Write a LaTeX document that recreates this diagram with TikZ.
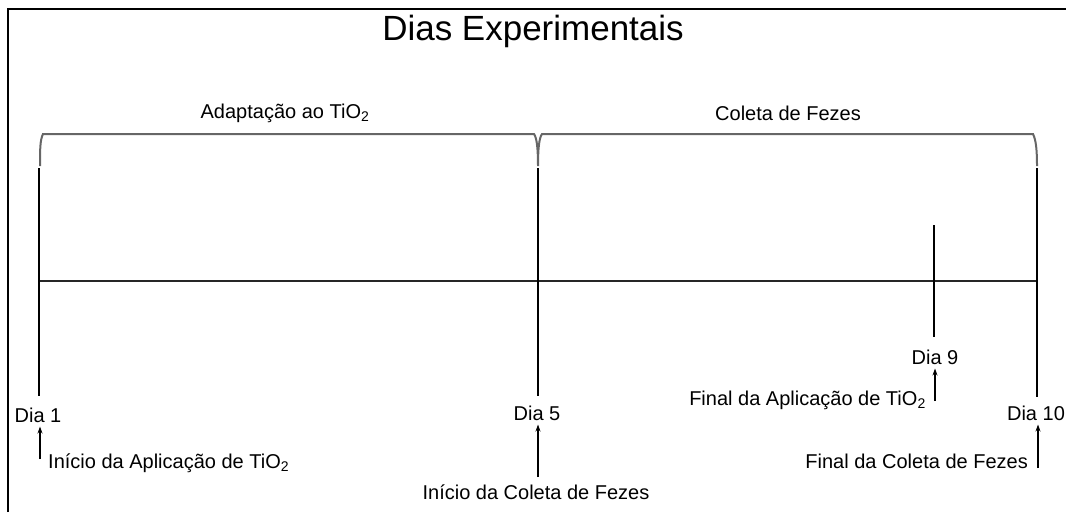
\documentclass[tikz,border=0pt]{standalone}
\usepackage{fontspec}
\setmainfont{Liberation Sans}
\usetikzlibrary{arrows.meta}
\begin{document}
\begin{tikzpicture}[x=1pt,y=-1pt,
  lbl/.style={inner sep=0pt,font=\fontsize{20}{24}\selectfont},
  ttl/.style={inner sep=0pt,font=\fontsize{35}{40}\selectfont},
  tick/.style={line width=2.6pt,black},
  axis/.style={line width=2pt,black!85},
  brk/.style={line width=2pt,black!60},
  arr/.style={line width=1.1pt,-{Stealth[length=7pt,width=5pt]},shorten >=4pt},
  frame/.style={line width=2.5pt,black}]
\useasboundingbox (0,0) rectangle (1066,512);
% frame (top and left edges)
\draw[frame] (8,512) -- (8,9) -- (1066,9);
% title
\node[ttl] (title) at (533,31) {Dias Experimentais};
% bracket labels
\node[lbl] (adapt) at (285,113) {Adaptação ao TiO\textsubscript{2}};
\node[lbl] (coleta) at (788,113) {Coleta de Fezes};
% brackets
\draw[brk] (40,166) .. controls (40,150) and (40,140) .. (43,134) -- (534,134)
  .. controls (537,138) and (538,150) .. (538,166)
  .. controls (538,150) and (539,138) .. (542,134) -- (1033,134)
  .. controls (1036,140) and (1037,150) .. (1037,166);
% coordinates for ticks
\coordinate (t1a) at (39,168);  \coordinate (t1b) at (39,396);
\coordinate (t5a) at (538,168); \coordinate (t5b) at (538,396);
\coordinate (t10a) at (1037,168); \coordinate (t10b) at (1037,397);
\coordinate (t9a) at (934,225); \coordinate (t9b) at (934,337);
\coordinate (axL) at (39,281); \coordinate (axR) at (1037,281);
\draw[axis] (axL) -- (axR);
\draw[tick] (t1a) -- (t1b);
\draw[tick] (t5a) -- (t5b);
\draw[tick] (t10a) -- (t10b);
\draw[tick] (t9a) -- (t9b);
% day labels
\node[lbl] (d1) at (38,415) {Dia 1};
\node[lbl] (d5) at (537,413) {Dia 5};
\node[lbl] (d9) at (935,357) {Dia 9};
\node[lbl] (d10) at (1036,413) {Dia 10};
% descriptions
\node[lbl,anchor=west] (i1) at (48,463) {Início da Aplicação de TiO\textsubscript{2}};
\node[lbl] (i5) at (536,492) {Início da Coleta de Fezes};
\node[lbl,anchor=east] (f9) at (926,400) {Final da Aplicação de TiO\textsubscript{2}};
\node[lbl,anchor=east] (f10) at (1028,461) {Final da Coleta de Fezes};
% arrows
\coordinate (a1) at (40,459);
\coordinate (a5) at (538,477);
\coordinate (a9) at (935,401);
\coordinate (a10) at (1038,468);
\draw[arr] (a1) -- (a1 |- d1.south);
\draw[arr] (a5) -- (a5 |- d5.south);
\draw[arr] (a9) -- (a9 |- d9.south);
\draw[arr] (a10) -- (a10 |- d10.south);
\end{tikzpicture}
\end{document}
